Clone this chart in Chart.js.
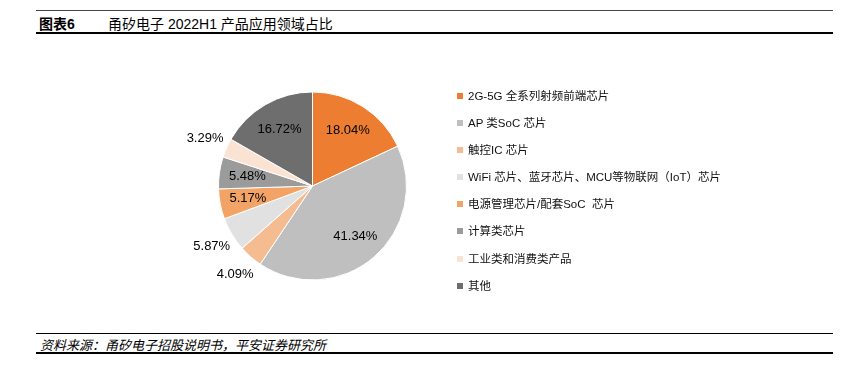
<!DOCTYPE html>
<html>
<head>
<meta charset="utf-8">
<script src="https://cdn.jsdelivr.net/npm/chart.js@4"></script>
<style>
   body { margin: 0; background: #fff; font-family: "Liberation Sans", "Noto Sans CJK SC", sans-serif; }
   #wrap { position: relative; width: 845px; height: 376px; }
   .rule { position: absolute; left: 36px; width: 797px; background: #000; }
   #title { position: absolute; left: 39px; top: 13px; font-size: 14px; color: #000; white-space: pre; }
   #title b { font-weight: bold; display: inline-block; width: 69px; }
   #chartBox { position: absolute; left: 0; top: 40px; width: 845px; height: 290px; }
   #legend { position: absolute; left: 457px; top: 88px; font-size: 11.5px; color: #111; }
   #legend div { height: 27.1px; line-height: 16px; white-space: pre; }
   #legend span { display: inline-block; width: 6px; height: 6px; margin-right: 5px; vertical-align: 1px; }
   #source { position: absolute; left: 40px; top: 335px; font-size: 13px; font-style: italic; color: #000; }
</style>
</head>
<body>
<div id="wrap">
   <div class="rule" style="top:10px;height:1px;background:#444"></div>
   <div id="title"><b>图表6</b>甬矽电子 2022H1 产品应用领域占比</div>
   <div class="rule" style="top:32px;height:2px"></div>
   <div id="chartBox"><canvas id="pieChart" width="845" height="290"></canvas></div>
   <div id="legend"></div>
   <div class="rule" style="top:333px;height:1px"></div>
   <div id="source">资料来源：甬矽电子招股说明书，平安证券研究所</div>
   <div class="rule" style="top:352px;height:2px"></div>
</div>
<script>
// 产品应用领域
const categories = [
   '2G-5G 全系列射频前端芯片',
   'AP 类SoC 芯片',
   '触控IC 芯片',
   'WiFi 芯片、蓝牙芯片、MCU等物联网（IoT）芯片',
   '电源管理芯片/配套SoC  芯片',
   '计算类芯片',
   '工业类和消费类产品',
   '其他'
];
const shares = [18.04, 41.34, 4.09, 5.87, 5.17, 5.48, 3.29, 16.72];
const colors = ['#ED7D31', '#BFBFBF', '#F5BC91', '#E1E1E1', '#F3A366', '#9B9B9B', '#FBE3D3', '#6E6E6E'];
// labels drawn outside the slice
const outside = [false, false, true, true, false, false, true, false];

// legend
const legend = document.getElementById('legend');
categories.forEach((c, i) => {
   const row = document.createElement('div');
   row.innerHTML = `<span style="background:${colors[i]}"></span>${c}`;
   legend.appendChild(row);
});

// percentage labels
const pctLabels = {
   id: 'pctLabels',
   afterDatasetsDraw(chart) {
      const ctx = chart.ctx;
      const arcs = chart.getDatasetMeta(0).data;
      ctx.save();
      ctx.font = '13px "Liberation Sans", Arial, sans-serif';
      ctx.fillStyle = '#000';
      ctx.textAlign = 'center';
      ctx.textBaseline = 'middle';
      arcs.forEach((arc, i) => {
         const p = arc.getProps(['x', 'y', 'startAngle', 'endAngle', 'outerRadius']);
         const mid = (p.startAngle + p.endAngle) / 2;
         const r = p.outerRadius * (outside[i] ? 1.25 : 0.7);
         ctx.fillText(shares[i].toFixed(2) + '%', p.x + Math.cos(mid) * r, p.y + Math.sin(mid) * r);
      });
      ctx.restore();
   }
};

const ctx = document.getElementById('pieChart').getContext('2d');
new Chart(ctx, {
   type: 'pie',
   data: {
      labels: categories,
      datasets: [{
         data: shares,
         backgroundColor: colors,
         borderColor: '#fff',
         borderWidth: 1
      }]
   },
   options: {
      responsive: false,
      animation: false,
      maintainAspectRatio: false,
      layout: { padding: { left: 218, right: 438, top: 51, bottom: 49 } },
      plugins: {
         legend: { display: false },
         tooltip: { enabled: false }
      }
   },
   plugins: [pctLabels]
});
</script>
</body>
</html>
